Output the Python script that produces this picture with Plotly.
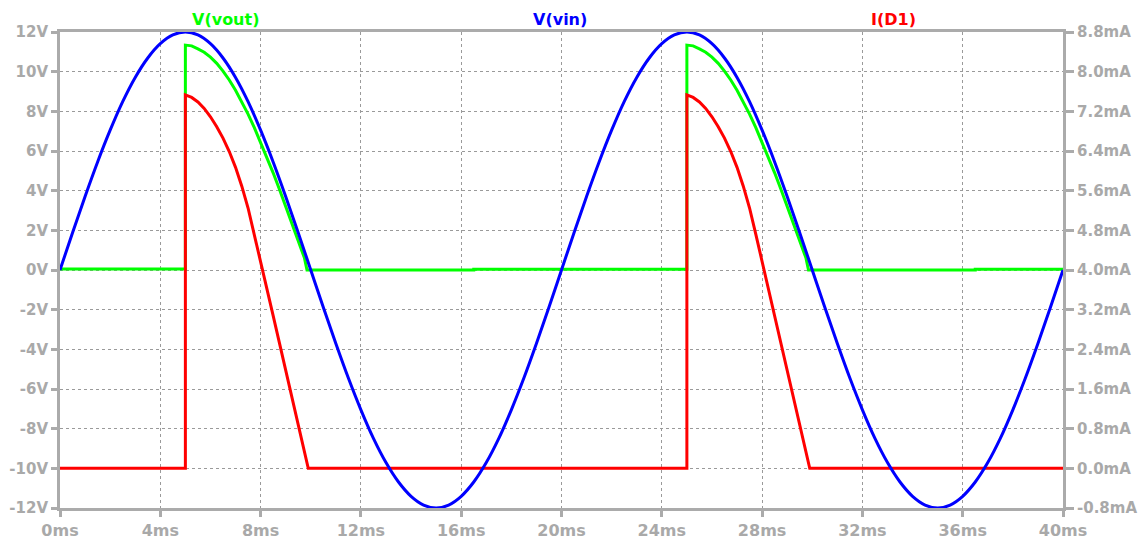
import numpy as np
import plotly.graph_objects as go

# ---------------- data ----------------
# time grid for V(vin) (ms)
t_vin = np.arange(0, 40.001, 0.5)
v_vin = [0.00, 1.88, 3.71, 5.45, 7.05, 8.49, 9.71, 10.69, 11.41, 11.85, 12.00,
         11.85, 11.41, 10.69, 9.71, 8.49, 7.05, 5.45, 3.71, 1.88, 0.00,
         -1.88, -3.71, -5.45, -7.05, -8.49, -9.71, -10.69, -11.41, -11.85, -12.00,
         -11.85, -11.41, -10.69, -9.71, -8.49, -7.05, -5.45, -3.71, -1.88, 0.00,
         1.88, 3.71, 5.45, 7.05, 8.49, 9.71, 10.69, 11.41, 11.85, 12.00,
         11.85, 11.41, 10.69, 9.71, 8.49, 7.05, 5.45, 3.71, 1.88, 0.00,
         -1.88, -3.71, -5.45, -7.05, -8.49, -9.71, -10.69, -11.41, -11.85, -12.00,
         -11.85, -11.41, -10.69, -9.71, -8.49, -7.05, -5.45, -3.71, -1.88, 0.00]

# V(vout) (ms, V)
t_vout = [0.0, 5.0, 5.0, 5.25, 5.5, 5.75, 6.0, 6.25, 6.5, 6.75, 7.0, 7.25, 7.5, 7.75,
          8.0, 8.25, 8.5, 8.75, 9.0, 9.25, 9.5, 9.75, 9.85, 16.5, 16.5,
          25.0, 25.0, 25.25, 25.5, 25.75, 26.0, 26.25, 26.5, 26.75, 27.0, 27.25, 27.5, 27.75,
          28.0, 28.25, 28.5, 28.75, 29.0, 29.25, 29.5, 29.75, 29.85, 36.5, 36.5, 40.0]
v_vout = [0.05, 0.05, 11.34, 11.30, 11.15, 10.98, 10.73, 10.42, 10.03, 9.58, 9.06, 8.48, 7.86, 7.18,
          6.45, 5.69, 4.90, 4.07, 3.22, 2.35, 1.47, 0.60, 0.00, 0.00, 0.04,
          0.04, 11.34, 11.30, 11.15, 10.98, 10.73, 10.42, 10.03, 9.58, 9.06, 8.48, 7.86, 7.18,
          6.45, 5.69, 4.90, 4.07, 3.22, 2.35, 1.47, 0.60, 0.00, 0.00, 0.04, 0.04]

# I(D1) (ms, mA)
t_id1 = [0.0, 5.0, 5.0, 5.25, 5.5, 5.75, 6.0, 6.25, 6.5, 6.75, 7.0, 7.25, 7.5, 7.75,
         8.0, 8.25, 8.5, 8.75, 9.0, 9.25, 9.5, 9.75, 9.9,
         25.0, 25.0, 25.25, 25.5, 25.75, 26.0, 26.25, 26.5, 26.75, 27.0, 27.25, 27.5, 27.75,
         28.0, 28.25, 28.5, 28.75, 29.0, 29.25, 29.5, 29.75, 29.9, 40.0]
i_id1 = [0.0, 0.0, 7.53, 7.48, 7.39, 7.26, 7.09, 6.89, 6.66, 6.39, 6.07, 5.69, 5.25, 4.72,
         4.17, 3.62, 3.08, 2.53, 1.99, 1.44, 0.90, 0.36, 0.0,
         0.0, 7.53, 7.48, 7.39, 7.26, 7.09, 6.89, 6.66, 6.39, 6.07, 5.69, 5.25, 4.72,
         4.17, 3.62, 3.08, 2.53, 1.99, 1.44, 0.90, 0.36, 0.0, 0.0]

x_ticks = [0, 4, 8, 12, 16, 20, 24, 28, 32, 36, 40]
x_ticktext = ["0ms", "4ms", "8ms", "12ms", "16ms", "20ms", "24ms", "28ms", "32ms", "36ms", "40ms"]
yl_ticks = [-12, -10, -8, -6, -4, -2, 0, 2, 4, 6, 8, 10, 12]
yl_ticktext = ["-12V", "-10V", "-8V", "-6V", "-4V", "-2V", "0V", "2V", "4V", "6V", "8V", "10V", "12V"]
yr_ticks = [-0.8, 0.0, 0.8, 1.6, 2.4, 3.2, 4.0, 4.8, 5.6, 6.4, 7.2, 8.0, 8.8]
yr_ticktext = ["-0.8mA", "0.0mA", "0.8mA", "1.6mA", "2.4mA", "3.2mA", "4.0mA", "4.8mA",
               "5.6mA", "6.4mA", "7.2mA", "8.0mA", "8.8mA"]

# ---------------- styles ----------------
AX = "#ababab"
GRID = "#9a9a9a"
LBL = "#a9a9a9"
FONT = "DejaVu Sans"

fig = go.Figure()
fig.add_trace(go.Scatter(x=t_vout, y=v_vout, mode="lines", yaxis="y",
                         line=dict(color="#00ff00", width=3), hoverinfo="skip"))
fig.add_trace(go.Scatter(x=t_id1, y=i_id1, mode="lines", yaxis="y2",
                         line=dict(color="#ff0000", width=3), hoverinfo="skip"))
fig.add_trace(go.Scatter(x=t_vin, y=v_vin, mode="lines", yaxis="y3",
                         line=dict(color="#0000ff", width=3, shape="spline", smoothing=1.0),
                         hoverinfo="skip"))

xfont = dict(family=FONT, size=16, color=LBL, weight="bold")
ylfont = dict(family=FONT, size=15, color=LBL, weight="bold")
yrfont = dict(family=FONT, size=15, color=LBL, weight="bold")

# page body has an 8px default margin: figure sized to fit the 1146x540 window
fig.update_layout(
    width=1138, height=532,
    margin=dict(l=52, r=83, t=24, b=32, autoexpand=False),
    plot_bgcolor="white", paper_bgcolor="white",
    showlegend=False,
    xaxis=dict(range=[0, 40], tickvals=x_ticks, ticktext=x_ticktext, automargin=False,
               showgrid=True, gridcolor=GRID, gridwidth=1, griddash="3px,3px",
               zeroline=False, showline=True, linecolor=AX, linewidth=3, mirror=True,
               ticks="outside", ticklen=6, tickwidth=3, tickcolor=AX,
               tickfont=xfont),
    yaxis=dict(range=[-12, 12], tickvals=yl_ticks, ticktext=yl_ticktext, automargin=False,
               showgrid=True, gridcolor=GRID, gridwidth=1, griddash="3px,3px",
               zeroline=False, showline=True, linecolor=AX, linewidth=3, mirror=True,
               ticks="outside", ticklen=6, tickwidth=3, tickcolor=AX,
               tickfont=ylfont),
    yaxis2=dict(range=[-0.8, 8.8], tickvals=yr_ticks, ticktext=yr_ticktext, automargin=False,
                overlaying="y", side="right", showgrid=False, zeroline=False,
                showline=True, linecolor=AX, linewidth=3,
                ticks="outside", ticklen=8, tickwidth=3, tickcolor=AX,
                tickfont=yrfont),
    yaxis3=dict(range=[-12, 12], overlaying="y", visible=False, automargin=False),
    annotations=[
        dict(text="V(vout)", x=0.1655, y=1.0, xref="paper", yref="paper",
             xanchor="center", yanchor="bottom", yshift=1, showarrow=False,
             font=dict(family=FONT, size=16, color="#00ff00", weight="bold")),
        dict(text="V(vin)", x=0.4985, y=1.0, xref="paper", yref="paper",
             xanchor="center", yanchor="bottom", yshift=1, showarrow=False,
             font=dict(family=FONT, size=16, color="#0000ff", weight="bold")),
        dict(text="I(D1)", x=0.8315, y=1.0, xref="paper", yref="paper",
             xanchor="center", yanchor="bottom", yshift=1, showarrow=False,
             font=dict(family=FONT, size=16, color="#ff0000", weight="bold")),
    ],
)

fig.write_html("out.html")
